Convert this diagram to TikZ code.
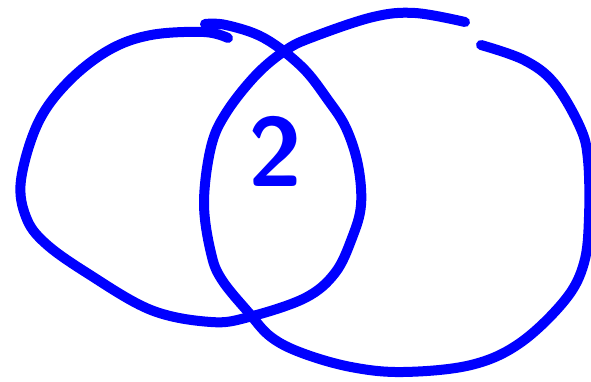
\documentclass[tikz,border=0pt]{standalone}
\usepackage{tikz}
\usetikzlibrary{positioning}

\tikzset{
  venn/.style={draw=blue, line width=10pt, line cap=round, line join=round},
}

\begin{document}
\begin{tikzpicture}[x=1pt, y=-1pt]
  \useasboundingbox (0,0) rectangle (591,381);
  % Left set
  \draw[venn] plot[smooth, tension=0.6] coordinates {
    (228,38) (204,32) (151,35) (109,50) (68,82) (38,123) (21,180) (26,217)
    (45,243) (87,273) (151,310) (211,322) (249,317) (305,298) (335,273)
    (352,238) (361,205) (358,165) (346,128) (328,100) (302,67) (264,38)
    (226,25) (205,24)};
  % Right set
  \draw[venn] plot[smooth, tension=0.6] coordinates {
    (465,22) (415,13) (373,17) (313,37) (286,50) (256,75) (226,113)
    (211,147) (204,203) (211,253) (222,280) (249,313) (271,337) (302,353)
    (351,367) (403,372) (471,365) (520,343) (565,300) (584,263) (589,217)
    (588,160) (580,127) (554,83) (524,60) (481,45)};
  % Intersection
  \node[text=blue, font=\sffamily\bfseries\fontsize{98}{98}\selectfont, inner sep=0pt] (both) at (275,151) {2};
\end{tikzpicture}
\end{document}
